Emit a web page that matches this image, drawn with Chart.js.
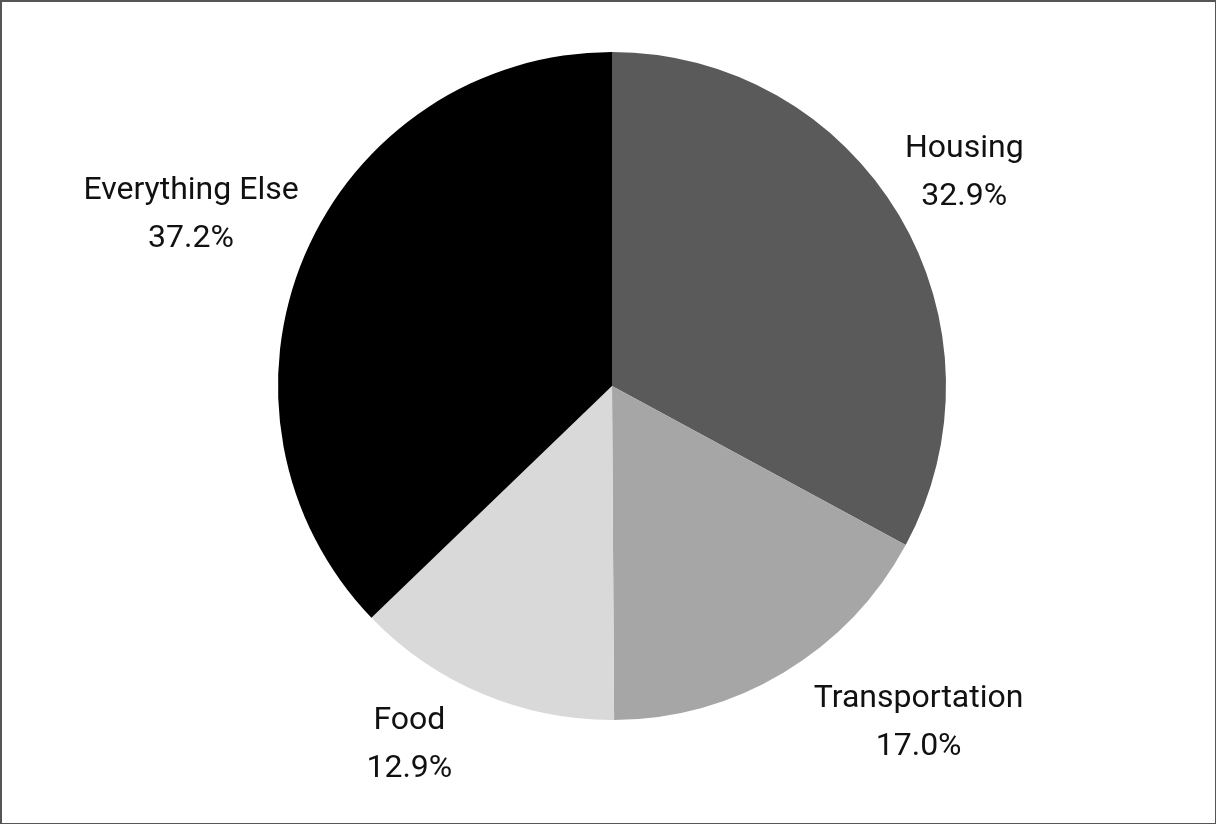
<!DOCTYPE html>
<html>
<head>
<meta charset="utf-8">
<script src="https://cdn.jsdelivr.net/npm/chart.js@4/dist/chart.umd.min.js"></script>
<style>
  html, body { margin: 0; padding: 0; background: #fff; }
  #wrap { position: relative; width: 1216px; height: 824px; }
  #frame {
    position: absolute; left: 0; top: 0; right: 0; bottom: 0;
    border-style: solid; border-color: #555;
    border-width: 2px 1px 1px 2px;
    pointer-events: none;
  }
</style>
</head>
<body>
<div id="wrap">
  <canvas id="pieChart"></canvas>
  <div id="frame"></div>
</div>
<script>
// Spending shares, clockwise from the top
const categories = ['Housing', 'Transportation', 'Food', 'Everything Else'];
const shares = [32.9, 17.0, 12.9, 37.2];
const sliceColors = ['#5a5a5a', '#a6a6a6', '#d9d9d9', '#000000'];

// Draws "name / xx.x%" outside each slice, anchored near the slice's middle angle
const outsideLabels = {
  id: 'outsideLabels',
  afterDatasetsDraw(chart) {
    const ctx = chart.ctx;
    const meta = chart.getDatasetMeta(0);
    ctx.save();
    ctx.font = '32px Roboto';
    ctx.fillStyle = '#111';
    ctx.textAlign = 'center';
    ctx.textBaseline = 'alphabetic';
    meta.data.forEach((arc, i) => {
      const p = arc.getProps(['x', 'y', 'startAngle', 'endAngle', 'outerRadius'], true);
      const mid = (p.startAngle + p.endAngle) / 2;
      const cos = Math.cos(mid), sin = Math.sin(mid);
      const lower = sin >= 0;
      // a bit more side gap for the labels under the pie
      const gap = lower ? 30 : 6;
      const px = p.x + cos * p.outerRadius + (cos >= 0 ? gap : -gap);
      const py = p.y + sin * (p.outerRadius + 12);
      const line1 = categories[i];
      const line2 = shares[i].toFixed(1) + '%';
      const w = Math.max(ctx.measureText(line1).width, ctx.measureText(line2).width);
      const cx = cos >= 0 ? px + w / 2 : px - w / 2;
      let b1, b2;
      if (!lower) {
        b2 = py - 4;
        b1 = b2 - 48;
      } else {
        b1 = py + 24;
        b2 = b1 + 48;
      }
      ctx.fillText(line1, cx, b1);
      ctx.fillText(line2, cx, b2);
    });
    ctx.restore();
  }
};

const pieCtx = document.getElementById('pieChart').getContext('2d');
const pieChart = new Chart(pieCtx, {
  type: 'pie',
  data: {
    labels: categories,
    datasets: [{
      data: shares,
      backgroundColor: sliceColors,
      borderWidth: 0
    }]
  },
  options: {
    responsive: true,
    maintainAspectRatio: false,
    animation: false,
    layout: {
      padding: { top: 52, bottom: 104, left: 8, right: 0 }
    },
    plugins: {
      legend: { display: false },
      tooltip: { enabled: false }
    }
  },
  plugins: [outsideLabels]
});
</script>
</body>
</html>
